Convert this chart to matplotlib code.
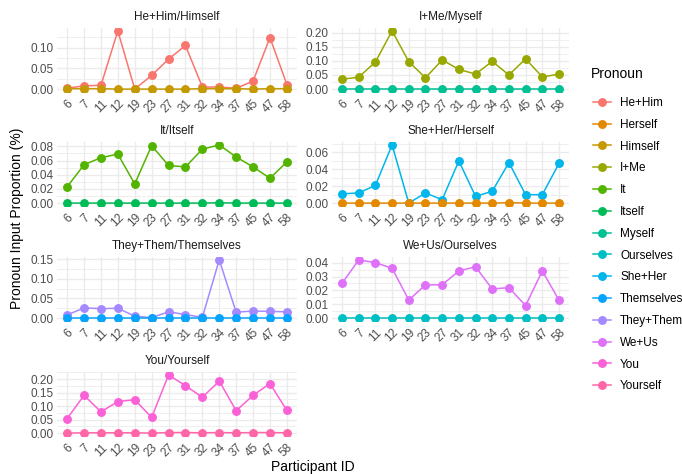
import matplotlib
matplotlib.use('Agg')
import matplotlib.pyplot as plt
from matplotlib.lines import Line2D
from matplotlib.ticker import MultipleLocator, FormatStrFormatter

plt.rcParams['font.family'] = ['Liberation Sans', 'DejaVu Sans']

participants = ['6', '7', '11', '12', '19', '23', '27', '31', '32', '34', '37', '45', '47', '58']

levels = ['He+Him', 'Herself', 'Himself', 'I+Me', 'It', 'Itself', 'Myself', 'Ourselves',
          'She+Her', 'Themselves', 'They+Them', 'We+Us', 'You', 'Yourself']
colors = ['#F8766D', '#E38900', '#C49A00', '#99A800', '#53B400', '#00BC56', '#00C094',
          '#00BFC4', '#00B6EB', '#06A4FF', '#A58AFF', '#DF70F8', '#FB61D7', '#FF66A8']

he_him = [0.002, 0.008, 0.009, 0.140, 0.000, 0.033, 0.072, 0.105, 0.005, 0.005, 0.002, 0.019, 0.124, 0.011]
himself = [0.001, 0.001, 0.001, 0.000, 0.000, 0.000, 0.000, 0.000, 0.001, 0.001, 0.001, 0.000, 0.001, 0.001]
i_me = [0.035, 0.042, 0.096, 0.206, 0.097, 0.040, 0.103, 0.070, 0.053, 0.098, 0.050, 0.107, 0.043, 0.053]
myself = [0.0] * 14
it = [0.023, 0.054, 0.064, 0.069, 0.027, 0.081, 0.053, 0.051, 0.076, 0.082, 0.065, 0.051, 0.035, 0.058]
itself = [0.0, 0.0, 0.0, 0.0, 0.0, 0.0, 0.0, 0.0, 0.0, 0.0005, 0.0, 0.0, 0.0, 0.0]
she_her = [0.011, 0.012, 0.021, 0.069, 0.000, 0.012, 0.004, 0.050, 0.008, 0.014, 0.048, 0.010, 0.010, 0.047]
herself = [0.0, 0.0, 0.0, 0.0, 0.0, 0.0, 0.0, 0.0, 0.0, 0.0, 0.0005, 0.0, 0.0, 0.0]
they_them = [0.008, 0.026, 0.024, 0.025, 0.005, 0.001, 0.016, 0.009, 0.002, 0.148, 0.015, 0.018, 0.017, 0.016]
themselves = [0.0] * 14
we_us = [0.025, 0.042, 0.040, 0.036, 0.013, 0.024, 0.024, 0.034, 0.037, 0.021, 0.022, 0.009, 0.034, 0.013]
ourselves = [0.0] * 14
you = [0.054, 0.140, 0.079, 0.117, 0.124, 0.058, 0.216, 0.176, 0.133, 0.193, 0.083, 0.140, 0.184, 0.084]
yourself = [0.0, 0.001, 0.001, 0.001, 0.001, 0.0, 0.002, 0.002, 0.001, 0.002, 0.001, 0.002, 0.002, 0.001]

facets = [
    ('He+Him/Himself', [('He+Him', he_him), ('Himself', himself)], 0.05),
    ('I+Me/Myself', [('I+Me', i_me), ('Myself', myself)], 0.05),
    ('It/Itself', [('It', it), ('Itself', itself)], 0.02),
    ('She+Her/Herself', [('She+Her', she_her), ('Herself', herself)], 0.02),
    ('They+Them/Themselves', [('They+Them', they_them), ('Themselves', themselves)], 0.05),
    ('We+Us/Ourselves', [('We+Us', we_us), ('Ourselves', ourselves)], 0.01),
    ('You/Yourself', [('You', you), ('Yourself', yourself)], 0.05),
]

W, H = 682, 474
fig = plt.figure(figsize=(W / 100, H / 100), dpi=100)

col_x = [(57, 297), (332, 569)]
row_tops = [28, 142, 257, 372]
ph = 64

small_fs = 8.5
big_fs = 10.0
grid_c = '#EBEBEB'
color_of = dict(zip(levels, colors))
x = list(range(len(participants)))

for i, (title, series, step) in enumerate(facets):
    r, c = divmod(i, 2)
    x0, x1 = col_x[c]
    top = row_tops[r]
    ax = fig.add_axes([x0 / W, 1 - (top + ph) / H, (x1 - x0) / W, ph / H])
    for name, vals in series:
        ax.plot(x, vals, color=color_of[name], lw=1.1, zorder=3)
    for name, vals in series:
        ax.plot(x, vals, color=color_of[name], lw=0, marker='o', ms=5.4, zorder=4)
    ax.set_xlim(-0.6, len(participants) - 0.4)
    ax.margins(y=0.05)
    ax.set_xticks(x)
    ax.set_xticklabels(participants, rotation=45, ha='right', rotation_mode='anchor')
    ax.yaxis.set_major_locator(MultipleLocator(step))
    ax.yaxis.set_minor_locator(MultipleLocator(step / 2))
    ax.yaxis.set_major_formatter(FormatStrFormatter('%.2f'))
    ax.tick_params(axis='both', which='both', length=0, labelsize=small_fs, colors='#4D4D4D')
    ax.tick_params(axis='y', pad=2.5)
    ax.tick_params(axis='x', pad=4)
    ax.grid(True, which='major', color=grid_c, lw=1.0, zorder=0)
    ax.grid(True, which='minor', axis='y', color=grid_c, lw=0.55, zorder=0)
    ax.set_axisbelow(True)
    for s in ax.spines.values():
        s.set_visible(False)
    ax.text(0.5, 1 + 11 / ph, title, transform=ax.transAxes, ha='center', va='center',
            fontsize=small_fs, color='#1A1A1A')

fig.text(313 / W, 1 - 467 / H, 'Participant ID', ha='center', va='center', fontsize=big_fs, color='black')
fig.text(17 / W, 1 - 218 / H, 'Pronoun Input Proportion (%)', ha='center', va='center',
         rotation=90, fontsize=big_fs, color='black')

fig.text(591 / W, 1 - 74 / H, 'Pronoun', ha='left', va='center', fontsize=big_fs, color='black')
handles = [Line2D([0], [0], color=col, lw=1.1, marker='o', ms=5.4) for col in colors]
leg = fig.legend(handles, levels, loc='upper left',
                 bbox_to_anchor=(593 / W, 1 - 97 / H), frameon=False, fontsize=small_fs,
                 borderpad=0, borderaxespad=0, labelspacing=0.83, handlelength=1.55,
                 handletextpad=0.75)

fig.savefig('out.png', dpi=100, facecolor='white')
